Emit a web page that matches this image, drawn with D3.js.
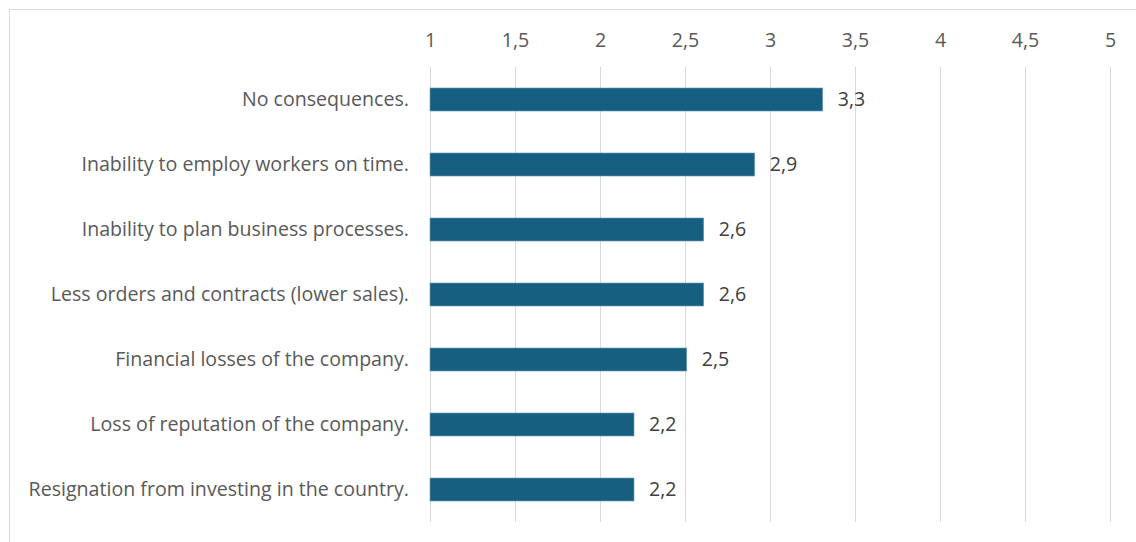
<!DOCTYPE html>
<html>
<head>
<meta charset="utf-8">
<script src="https://cdn.jsdelivr.net/npm/d3@7"></script>
<style>
  body { margin: 0; background: #fff; }
  svg { display: block; font-family: "Open Sans", sans-serif; }
</style>
</head>
<body>
<div id="the_chart"></div>
<script>
var categories = [
  "No consequences.",
  "Inability to employ workers on time.",
  "Inability to plan business processes.",
  "Less orders and contracts (lower sales).",
  "Financial losses of the company.",
  "Loss of reputation of the company.",
  "Resignation from investing in the country."
];
var values = [3.31, 2.91, 2.61, 2.61, 2.51, 2.2, 2.2];
var ticks = [1, 1.5, 2, 2.5, 3, 3.5, 4, 4.5, 5];

var w = 1136;
var h = 542;
var plotLeft = 430, plotRight = 1110, plotTop = 67, plotBottom = 522;
var fontSize = "19.6px";

var svg = d3.select("#the_chart")
  .append("svg")
  .attr("width", w)
  .attr("height", h);

// chart area border (runs off the right and bottom)
svg.append("rect")
  .attr("x", 9.5).attr("y", 9.5)
  .attr("width", w).attr("height", h)
  .attr("fill", "none")
  .attr("stroke", "#d9d9d9");

var xscale = d3.scaleLinear().domain([1, 5]).range([plotLeft, plotRight]);
var yscale = d3.scaleBand().domain(categories).range([plotTop, plotBottom]).paddingInner(0.646).paddingOuter(0.323);

var fmt = function(d) { return d3.format(".1f")(d).replace(".", ","); };
var tfmt = function(d) { return String(d).replace(".", ","); };

// gridlines
svg.append("g")
  .selectAll("line")
  .data(ticks)
  .enter().append("line")
  .attr("x1", function(d) { return Math.round(xscale(d)) + 0.5; })
  .attr("x2", function(d) { return Math.round(xscale(d)) + 0.5; })
  .attr("y1", plotTop)
  .attr("y2", plotBottom)
  .attr("stroke", "#d9d9d9")
  .attr("stroke-width", 1);

// top axis labels
var xaxis = d3.axisTop(xscale).tickValues(ticks).tickFormat(tfmt).tickSize(0).tickPadding(0);
var gx = svg.append("g")
  .attr("transform", "translate(0,47)")
  .call(xaxis);
gx.select(".domain").remove();
gx.selectAll("text")
  .attr("fill", "#595959")
  .style("font-size", fontSize)
  .style("font-family", "'Open Sans', sans-serif");

// category labels
var yaxis = d3.axisLeft(yscale).tickSize(0).tickPadding(0);
var gy = svg.append("g")
  .attr("transform", "translate(409,0)")
  .call(yaxis);
gy.select(".domain").remove();
gy.selectAll("text")
  .attr("fill", "#595959")
  .style("font-size", fontSize)
  .style("font-family", "'Open Sans', sans-serif");

// bars
svg.selectAll("rect.bar")
  .data(values)
  .enter().append("rect")
  .attr("class", "bar")
  .attr("x", xscale(1))
  .attr("y", function(d, i) { return yscale(categories[i]); })
  .attr("width", function(d) { return xscale(d) - xscale(1); })
  .attr("height", yscale.bandwidth())
  .attr("fill", "#175f80")
  .attr("stroke", "#6b9db3")
  .attr("stroke-width", 0.6);

// data labels
svg.selectAll("text.val")
  .data(values)
  .enter().append("text")
  .attr("class", "val")
  .attr("x", function(d) { return xscale(d) + 15; })
  .attr("y", function(d, i) { return yscale(categories[i]) + yscale.bandwidth() / 2; })
  .attr("dy", "0.35em")
  .attr("fill", "#404040")
  .style("font-size", fontSize)
  .text(function(d) { return fmt(d); });
</script>
</body>
</html>
